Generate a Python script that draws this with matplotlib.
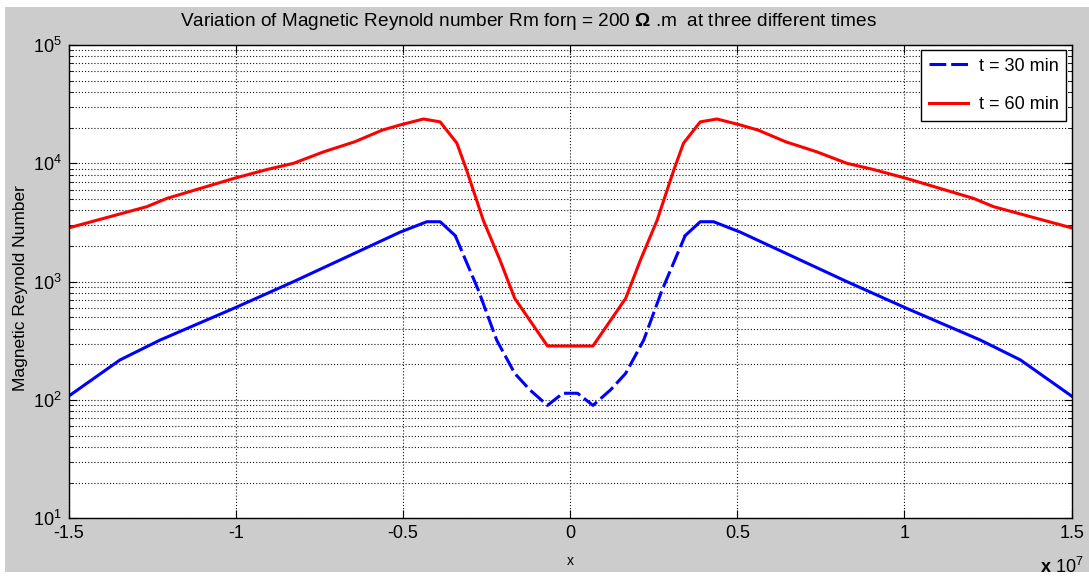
import matplotlib.pyplot as plt
import numpy as np
from matplotlib.ticker import FuncFormatter, LogLocator, NullFormatter
from matplotlib.patches import Rectangle
from matplotlib.lines import Line2D

plt.rcParams['font.family'] = ['Liberation Sans', 'DejaVu Sans']
plt.rcParams['mathtext.fontset'] = 'custom'
plt.rcParams['mathtext.rm'] = 'Liberation Sans'
plt.rcParams['mathtext.bf'] = 'Liberation Sans:bold'

# x position (units of 1e7)
x_60 = [-1.5, -1.267, -1.207, -1.006, -0.905, -0.828, -0.738, -0.645, -0.562, -0.509,
        -0.439, -0.389, -0.339, -0.31, -0.26, -0.21, -0.166, -0.068,
        0.068, 0.166, 0.21, 0.26, 0.31, 0.339, 0.389, 0.439,
        0.509, 0.562, 0.645, 0.738, 0.828, 0.905, 1.006, 1.207, 1.267, 1.5]
rm_60 = [2850, 4300, 5050, 7460, 8900, 10000, 12500, 15200, 19100, 21100,
         23700, 22400, 14800, 8790, 3300, 1520, 723, 286,
         286, 723, 1520, 3300, 8790, 14800, 22400, 23700,
         21100, 19100, 15200, 12500, 10000, 8900, 7460, 5050, 4300, 2850]

x_30 = [-1.5, -1.347, -1.227, -1.006, -0.828, -0.509, -0.429, -0.389, -0.344,
        -0.275, -0.22, -0.166, -0.121, -0.068, -0.022,
        0.022, 0.068, 0.121, 0.166, 0.22, 0.275,
        0.344, 0.389, 0.429, 0.509, 0.828, 1.006, 1.227, 1.347, 1.5]
rm_30 = [108, 218, 321, 596, 1000, 2620, 3210, 3210, 2450,
         851, 321, 168, 122, 90, 114,
         114, 90, 122, 168, 321, 851,
         2450, 3210, 3210, 2620, 1000, 596, 321, 218, 108]

x_ticks = [-1.5, -1, -0.5, 0, 0.5, 1, 1.5]

fig = plt.figure(figsize=(10.89, 5.77), dpi=100)
fig.patch.set_facecolor('white')
fig.patches.append(Rectangle((5/1089, 5/577), 1, 565/577, transform=fig.transFigure,
                             facecolor='#cccccc', edgecolor='none', zorder=-10))

ax = fig.add_axes([0.0632, 0.1017, 0.9208, 0.8203])

# blue line: solid on the flanks, dashed in the middle
i0 = x_30.index(-0.344)
i1 = x_30.index(0.344)
dash = (0, (5.5, 1.6))
ax.plot(x_30[:i0 + 1], rm_30[:i0 + 1], color='blue', lw=2.2)
ax.plot(x_30[i0:i1 + 1], rm_30[i0:i1 + 1], color='blue', lw=2.2, ls=dash)
ax.plot(x_30[i1:], rm_30[i1:], color='blue', lw=2.2)
ax.plot(x_60, rm_60, color='red', lw=2.2)

ax.set_yscale('log')
ax.set_xlim(-1.5, 1.5)
ax.set_ylim(10, 1e5)
ax.set_xticks(x_ticks)
ax.xaxis.set_major_formatter(FuncFormatter(lambda v, p: '%g' % v))
ax.yaxis.set_minor_locator(LogLocator(base=10, subs=np.arange(2, 10)))
ax.yaxis.set_minor_formatter(NullFormatter())

grid_ls = (0, (1, 1.8))
ax.grid(True, which='major', ls=grid_ls, color='#111111', lw=0.8)
ax.grid(True, which='minor', axis='y', ls=grid_ls, color='#111111', lw=0.8)
ax.tick_params(which='both', direction='in', top=True, right=True, labelsize=13, pad=5)
ax.tick_params(which='major', length=6)
ax.tick_params(which='minor', length=3)
for s in ax.spines.values():
    s.set_linewidth(1.0)

ax.set_ylabel('Magnetic Reynold Number', fontsize=12.5)
ax.yaxis.set_label_coords(-0.041, 0.487)
ax.set_xlabel('x', fontsize=10)
ax.xaxis.set_label_coords(0.5, -0.075)

fig.text(529/1089, 1 - 21/577,
         r'Variation of Magnetic Reynold number Rm forη = 200 $\mathbf{\Omega}$ .m  at three different times',
         ha='center', va='center', fontsize=13.7)
fig.text(1040/1089, 1 - 567/577, r'$\mathbf{x}$ 10$^{7}$', ha='left', va='center', fontsize=13)

handles = [Line2D([], [], color='blue', lw=2.2, ls=dash),
           Line2D([], [], color='red', lw=2.2)]
leg = ax.legend(handles, ['t = 30 min', 't = 60 min'], loc='upper right', fontsize=13,
                fancybox=False, framealpha=1, edgecolor='black', handlelength=2.2,
                labelspacing=1.2, borderaxespad=0.3, handletextpad=0.6)
leg.get_frame().set_linewidth(1.0)

fig.savefig('out.png', dpi=100, facecolor=fig.get_facecolor())
